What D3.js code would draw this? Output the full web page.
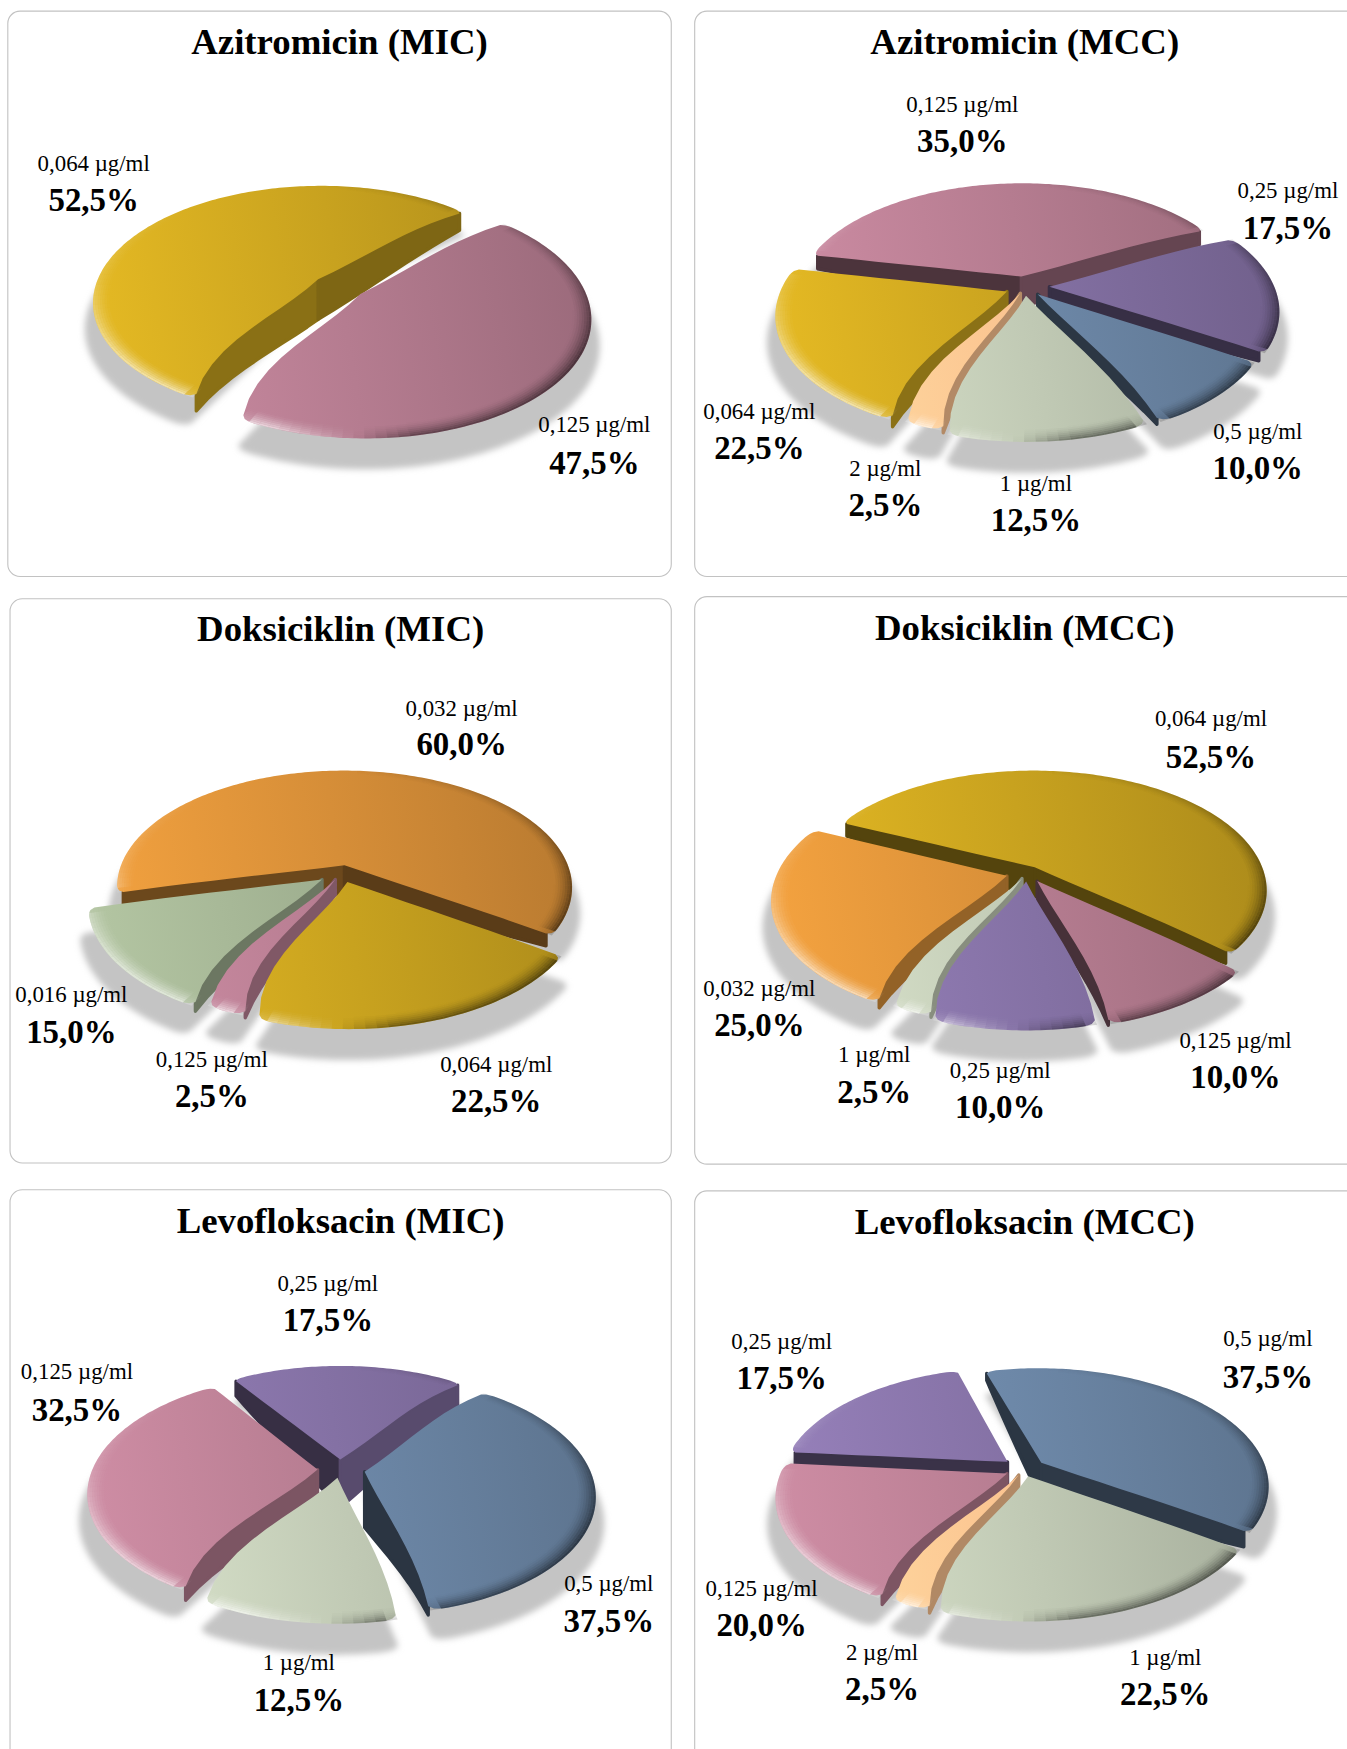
<!DOCTYPE html>
<html><head><meta charset="utf-8">
<script src="https://cdn.jsdelivr.net/npm/d3@7/dist/d3.min.js"></script>
<style>html,body{margin:0;padding:0;background:#fff;overflow:hidden}svg{display:block}
text{font-family:"Liberation Serif",serif;fill:#000;text-anchor:middle}</style></head><body>
<svg id="c" width="1347" height="1749" viewBox="0 0 1208 1568.5"></svg>
<script>
// ---- data ----
const aziMicDoses=["0,064 µg/ml","0,125 µg/ml"];
const aziMicValues=[52.5,47.5];
const aziMccDoses=["0,064 µg/ml","0,125 µg/ml","0,25 µg/ml","0,5 µg/ml","1 µg/ml","2 µg/ml"];
const aziMccValues=[22.5,35.0,17.5,10.0,12.5,2.5];
const doxMicDoses=["0,016 µg/ml","0,032 µg/ml","0,064 µg/ml","0,125 µg/ml"];
const doxMicValues=[15.0,60.0,22.5,2.5];
const doxMccDoses=["0,032 µg/ml","0,064 µg/ml","0,125 µg/ml","0,25 µg/ml","1 µg/ml"];
const doxMccValues=[25.0,52.5,10.0,10.0,2.5];
const levoMicDoses=["0,125 µg/ml","0,25 µg/ml","0,5 µg/ml","1 µg/ml"];
const levoMicValues=[32.5,17.5,37.5,12.5];
const levoMccDoses=["0,125 µg/ml","0,25 µg/ml","0,5 µg/ml","1 µg/ml","2 µg/ml"];
const levoMccValues=[20.0,17.5,37.5,22.5,2.5];
const titles=["Azitromicin (MIC)","Azitromicin (MCC)","Doksiciklin (MIC)","Doksiciklin (MCC)","Levofloksacin (MIC)","Levofloksacin (MCC)"];

// ---- style and layout ----
const doseColor={"0,016":"#9dad8e","0,032":"#d68e38","0,064":"#c8a21f","0,125":"#b57c90","0,25":"#8471a4","0,5":"#6d88a8","1":"#c0c9b4","2":"#fbc28f"};
const panels=[
 {doses:aziMicDoses,values:aziMicValues,box:[7,10,595,507],titleY:48,cx:304,cy:257,R:200,start:210,hC:[36,36],explode:[.115,.115],
  labels:[[84,147,180],[533,381,416]]},
 {doses:aziMccDoses,values:aziMccValues,box:[623,10,640,507],titleX:919,titleY:48,cx:919,cy:258,R:202,start:207,hC:[24,28,20,22,12,14],explode:[.085,.1,.11,.08,.07,.05],
  labels:[[681,370,403],[863,94,127],[1155,172,205],[1128,388,421],[929,434,467],[794,421,454]]},
 {doses:doxMicDoses,values:doxMicValues,box:[9,537,593,506],titleY:575,cx:306,cy:783,R:203,start:210,hC:[20,26,12,14],explode:[.1,.07,.08,.06],
  labels:[[64,893,926],[414,636,668],[445,955,988],[190,951,984]]},
 {doses:doxMccDoses,values:doxMccValues,box:[623,535,640,509],titleX:919,titleY:574,cx:921,cy:783,R:206,start:210,hC:[20,26,20,18,10],explode:[.09,.06,.08,.07,.05],
  labels:[[681,887,920],[1086,645,680],[1108,934,967],[897,961,994],[784,946,980]]},
 {doses:levoMicDoses,values:levoMicValues,box:[9,1067,593,560],titleY:1106,cx:305,cy:1318,R:202,start:212,hC:[30,43,50,10],explode:[.1,.09,.11,.07],
  labels:[[69,1231,1265],[294,1152,1185],[546,1421,1455],[268,1492,1525]]},
 {doses:levoMccDoses,values:levoMccValues,box:[623,1068,640,560],titleX:919,titleY:1107,cx:918,cy:1318,R:202,start:210,hC:[22,28,34,10,16],explode:[.08,.1,.1,.06,.05],
  labels:[[683,1425,1458],[701,1204,1237],[1137,1201,1236],[1045,1487,1520],[791,1483,1516]]}
];
const TILT=.51, K=.19, RAD=Math.PI/180;
const warpDeg=d3.scaleLinear().domain([0,45,90,130,180,270,360]).range([0,9,10,2,0,-8,0]);
const bevelLight=d3.scaleLinear().domain([0,60,120,170,182,200,230,270,320,360]).range([0,-.3,-.8,-.65,0,.9,.8,.2,0,0]);
const wallShade=d3.scaleLinear().domain([90,130,160,190,230,270]).range([.75,.66,.53,.42,.42,.38]).clamp(true);
const wallRim=d3.scaleLinear().domain([90,220,260]).range([.42,.42,.14]).clamp(true);
const edgeBend=d3.scaleLinear().domain([0,30,115,165,185,200,215,260,360]).range([0,-3,0,-3,3,7,7,0,0]);

const svg=d3.select("#c");
const defs=svg.append("defs");
defs.append("filter").attr("id","blur").attr("x","-10%").attr("y","-10%").attr("width","120%").attr("height","120%")
  .append("feGaussianBlur").attr("stdDeviation",3);
const line=d3.line().x(d=>d[0]).y(d=>d[1]);
const closedCurve=d3.line().curve(d3.curveLinearClosed).x(d=>d[0]).y(d=>d[1]);
const pieGen=d3.pie().sort(null);
const norm=d=>((d%360)+360)%360;
function warp(a){return a+warpDeg(norm(a/RAD))*RAD;}
function shownDeg(a){return norm(warp(a)/RAD);}

function project(p,a,r,off){
  const w=warp(a);
  const X=Math.sin(w)*r+off[0], Y=-Math.cos(w)*r+off[1];
  const s=1/(1-K*Y);
  return [p.cx+p.R*X*s, p.cy+p.R*TILT*Y*s];
}
// a radial edge bends a little, as on the domed top of the slice
function edgePts(p,a,off,lift=0,liftRim=0,bendScale=1){
  return d3.range(0,11).map(i=>{
    const t=i/10, bend=bendScale*edgeBend(shownDeg(a))*RAD*4*t*(1-t);
    const q=project(p,a+bend,t*(1-.025*t),off);
    return [q[0],q[1]+lift+(liftRim-lift)*t];
  });
}
function rimPts(p,s,off,r=1){
  const span=(s.endAngle-s.startAngle)/RAD, n=Math.max(10,Math.ceil(span)), rc=Math.min(4,span/2);
  return d3.range(n+1).map(i=>{
    const u=i/n, d=Math.min(u,1-u)*span, e=d<rc?(rc-d)/rc:0;
    return project(p,s.startAngle+(s.endAngle-s.startAngle)*u,r*(1-.025*(1-Math.sqrt(1-e*e))),off);
  });
}
function sectorPts(p,s,off){
  return edgePts(p,s.startAngle,off).concat(rimPts(p,s,off),edgePts(p,s.endAngle,off).reverse());
}
function shade(c,f){const o=d3.rgb(c);return d3.rgb(o.r*f,o.g*f,o.b*f)+"";}

panels.forEach((p,pi)=>{
  const g=svg.append("g");
  const [bx,by,bw,bh]=p.box;
  g.append("rect").attr("x",bx).attr("y",by).attr("width",bw).attr("height",bh).attr("rx",11)
    .attr("fill","#fff").attr("stroke","#c2c2c2").attr("stroke-width",1);
  g.append("text").attr("x",p.titleX||bx+bw/2).attr("y",p.titleY).attr("font-size",33).attr("font-weight",700).text(titles[pi]);

  const arcs=pieGen.startAngle(p.start*RAD).endAngle(p.start*RAD+2*Math.PI)(p.values);
  arcs.forEach((s,i)=>{
    s.mid=(s.startAngle+s.endAngle)/2;
    s.off=[Math.sin(s.mid)*p.explode[i],-Math.cos(s.mid)*p.explode[i]];
    s.dose=p.doses[i]; s.color=doseColor[s.dose.split(" ")[0]];
    s.hC=p.hC[i];
  });
  // shadow
  const sg=g.append("g").attr("filter","url(#blur)");
  sg.selectAll("path").data(arcs).join("path")
    .attr("d",s=>line([project(p,0,0,s.off)].concat(rimPts(p,s,s.off,1.035)).map(q=>[q[0],q[1]+22]))+"Z")
    .attr("fill","#c4c4c4");
  // slices back to front
  const order=arcs.slice().sort((a,b)=>-Math.cos(a.mid)- -Math.cos(b.mid));
  order.forEach(s=>{
    const sl=g.append("g");
    [[s.startAngle,-90],[s.endAngle,90]].forEach(([a,d])=>{
      const nrm=norm(shownDeg(a)+d);
      if(nrm<90||nrm>265) return;
      const col=shade(s.color,wallShade(nrm));
      const hR=Math.max(5,wallRim(nrm)*s.hC);
      const top=edgePts(p,a,s.off), bot=edgePts(p,a,s.off,s.hC,hR,.4).reverse();
      sl.append("path").attr("d",closedCurve(top.concat(bot)))
        .attr("fill",col).attr("stroke",col).attr("stroke-width",3).attr("stroke-linejoin","round");
    });
    const gid=`g${pi}_${s.index}`;
    const lg=defs.append("linearGradient").attr("id",gid).attr("gradientUnits","userSpaceOnUse")
      .attr("x1",p.cx-p.R*1.05).attr("x2",p.cx+p.R*1.05).attr("y1",p.cy+35).attr("y2",p.cy-35);
    const base=d3.rgb(s.color);
    lg.append("stop").attr("offset",0).attr("stop-color",base.brighter(.35)+"");
    lg.append("stop").attr("offset",.5).attr("stop-color",base+"");
    lg.append("stop").attr("offset",1).attr("stop-color",shade(s.color,.86));
    sl.append("path").attr("d",line(sectorPts(p,s,s.off))+"Z").attr("fill",`url(#${gid})`);
    // rim bevel
    const rings=8, r0=.92, da=2.5*RAD;
    const span=s.endAngle-s.startAngle, n=Math.max(1,Math.ceil(span/da));
    d3.range(rings).forEach(k=>{
      const ra=r0+(1-r0)*k/rings, rb=r0+(1-r0)*(k+1)/rings, prof=Math.pow((k+.7)/rings,1.7);
      d3.range(n).forEach(j=>{
        const a0=s.startAngle+span*j/n, a1=s.startAngle+span*(j+1)/n;
        const fade=Math.min(1,Math.min(j+.5,n-j-.5)/1.5);
        const l=bevelLight(shownDeg((a0+a1)/2))*prof*fade;
        if(Math.abs(l)<.01) return;
        sl.append("path").attr("d",line([project(p,a0,ra,s.off),project(p,a1,ra,s.off),project(p,a1,rb,s.off),project(p,a0,rb,s.off)])+"Z")
          .attr("fill",l>0?"#fff":"#000").attr("fill-opacity",Math.abs(l)*(l>0?.75:.7));
      });
    });
  });
  // labels
  arcs.forEach((s,i)=>{
    const [lx,ly1,ly2]=p.labels[i];
    g.append("text").attr("x",lx).attr("y",ly1+6).attr("font-size",20.5).text(s.dose);
    g.append("text").attr("x",lx).attr("y",ly2+9).attr("font-size",29.5).attr("font-weight",700).text(d3.format(".1f")(s.value).replace(".",",")+"%");
  });
});
</script></body></html>
